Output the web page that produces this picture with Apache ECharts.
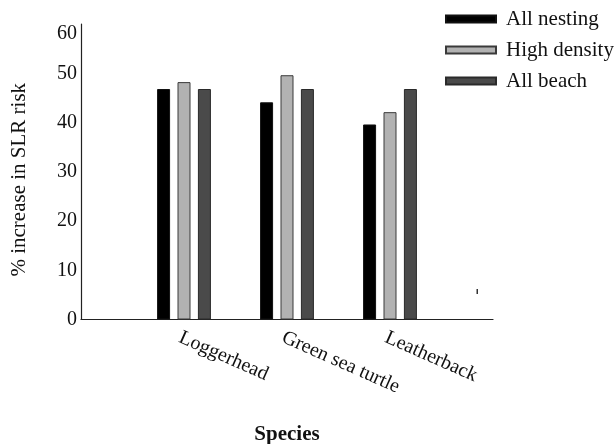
<!DOCTYPE html>
<html>
<head>
<meta charset="utf-8">
<script src="https://cdn.jsdelivr.net/npm/echarts@6/dist/echarts.min.js"></script>
<style>html,body{margin:0;padding:0;background:#fff;}#c{width:616px;height:444px;}</style>
</head>
<body>
<div id="c"></div>
<script>
const categories = ['', 'Loggerhead', 'Green sea turtle', 'Leatherback', ''];
const seriesNames = ['All nesting', 'High density', 'All beach'];
const allNesting = [null, 46.8, 44.1, 39.6, null];
const highDensity = [null, 48.2, 49.6, 42.1, null];
const allBeach = [null, 46.8, 46.8, 46.8, null];
const yTicks = [0, 10, 20, 30, 40, 50, 60];

const font = 'Liberation Serif, Times New Roman, serif';
const chart = echarts.init(document.getElementById('c'), null, {renderer: 'canvas'});
const styles = [
  {color: '#000000', borderColor: '#111111', borderWidth: 1},
  {color: '#b2b2b2', borderColor: '#3a3a3a', borderWidth: 1},
  {color: '#4a4a4a', borderColor: '#2a2a2a', borderWidth: 1}
];
const datas = [allNesting, highDensity, allBeach];
chart.setOption({
  animation: false,
  backgroundColor: '#ffffff',
  grid: {left: 81, right: 123, top: 24, bottom: 124.5, containLabel: false, outerBoundsMode: 'none'},
  legend: {
    orient: 'vertical', left: 445, top: 8, padding: 0,
    itemWidth: 50, itemHeight: 7, itemGap: 9,
    icon: 'rect',
    textStyle: {fontFamily: font, fontSize: 21, color: '#111', padding: [0, 0, 0, 5], lineHeight: 22},
    data: seriesNames
  },
  xAxis: {
    type: 'category', data: categories, boundaryGap: false,
    axisLine: {lineStyle: {color: '#222', width: 1.2}},
    axisTick: {show: false},
    axisLabel: {rotate: -24, fontFamily: font, fontSize: 20, color: '#111', margin: 8, interval: 0, verticalAlign: 'top'},
    name: 'Species', nameLocation: 'middle', nameGap: 105,
    nameTextStyle: {fontFamily: font, fontSize: 21, fontWeight: 'bold', color: '#111'}
  },
  yAxis: {
    type: 'value', min: yTicks[0], max: yTicks[yTicks.length - 1], interval: 10,
    axisLine: {show: true, lineStyle: {color: '#222', width: 1.2}},
    axisTick: {show: false},
    splitLine: {show: false},
    axisLabel: {fontFamily: font, fontSize: 20, color: '#111', margin: 4, verticalAlignMaxLabel: 'top'},
    name: '% increase in SLR risk', nameLocation: 'middle', nameGap: 51,
    nameTextStyle: {fontFamily: font, fontSize: 21, color: '#111', padding: [0, 16, 0, 0]}
  },
  series: seriesNames.map((n, i) => ({
    name: n, type: 'bar', data: datas[i], barWidth: 13, barGap: '57%',
    itemStyle: styles[i]
  })),
  graphic: [{type: 'rect', shape: {x: 476.5, y: 289, width: 1.5, height: 5}, style: {fill: '#333'}}]
});
</script>
</body>
</html>
